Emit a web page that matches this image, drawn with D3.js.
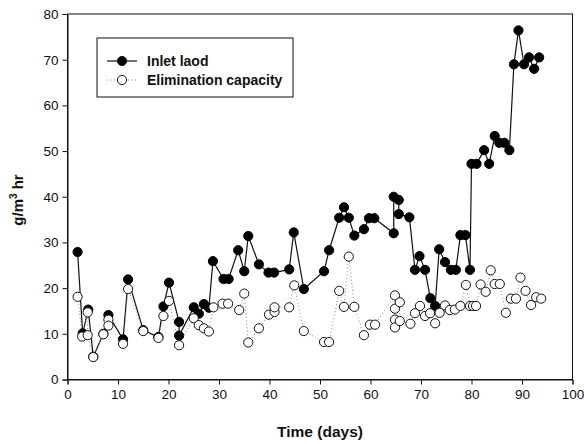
<!DOCTYPE html>
<html>
<head>
<meta charset="utf-8">
<script src="https://cdn.jsdelivr.net/npm/d3@7"></script>
<style>
  body { margin: 0; background: #fff; }
  text { font-family: Arial, "Liberation Sans", sans-serif; }
</style>
</head>
<body>
<svg width="584" height="444"></svg>
<script>
// inlet load [day, g/m3 hr]
const inletLoad = [
  [2, 27.9], [3, 10.1], [4.1, 15.3], [5.1, 5.0], [7.1, 10.0], [8.1, 14.1], [11, 8.8], [12, 21.9],
  [15, 10.8], [18, 9.3], [19, 16.0], [20.1, 21.2], [22.1, 12.6], [22.1, 9.6], [25, 15.8], [26, 14.4],
  [27, 16.5], [28, 15.7], [28.8, 25.9], [30.9, 22.0], [31.9, 22.0], [33.8, 28.3], [35, 23.7],
  [35.8, 31.4], [37.9, 25.2], [39.8, 23.4], [40.9, 23.4], [43.9, 24.1], [44.8, 32.2], [46.8, 19.8],
  [50.8, 23.7], [51.8, 28.3], [53.8, 35.4], [54.75, 37.7], [55.7, 35.4], [56.8, 31.5], [58.7, 32.9],
  [59.7, 35.3], [60.75, 35.3], [64.6, 32.0], [64.6, 40.0], [65.6, 39.3], [65.6, 36.2], [67.7, 35.5],
  [68.8, 24.0], [69.7, 27.0], [70.8, 24.0], [71.85, 17.8], [72.8, 16.1], [73.6, 28.5], [74.75, 25.7],
  [75.9, 24.0], [76.9, 24.0], [77.8, 31.6], [78.8, 31.6], [79.7, 24.0], [80, 47.2], [81, 47.2],
  [82.5, 50.2], [83.5, 47.2], [84.6, 53.3], [85.5, 51.8], [86.5, 51.8], [87.5, 50.2], [88.4, 69.0],
  [89.3, 76.4], [90.4, 69.0], [91.4, 70.5], [92.4, 68.0], [93.4, 70.5]
];

// elimination capacity [day, g/m3 hr]
const elimCapacity = [
  [2, 18.1], [2.9, 9.4], [4, 14.7], [4, 9.7], [5.1, 4.9], [7.1, 9.9], [8.1, 13.1], [8.1, 11.8],
  [11, 7.8], [12, 19.8], [15, 10.6], [18, 9.1], [19, 13.9], [20.1, 17.2], [22.1, 7.5], [25, 13.4],
  [26, 11.9], [27, 11.2], [28, 10.5], [28.9, 15.8], [30.7, 16.6], [31.8, 16.6], [34, 15.2], [35, 18.8],
  [35.8, 8.1], [37.9, 11.2], [39.9, 14.2], [41, 14.8], [41, 15.8], [43.9, 15.8], [44.9, 20.6],
  [46.8, 10.6], [50.8, 8.2], [51.8, 8.2], [53.8, 19.4], [54.75, 15.9], [55.7, 26.9], [56.8, 15.9],
  [58.7, 9.7], [59.9, 12.0], [60.9, 12.0], [64.85, 18.4], [64.85, 15.5], [64.85, 13.1], [64.85, 11.4],
  [65.8, 16.9], [65.8, 12.8], [67.9, 12.2], [68.8, 14.5], [69.8, 16.1], [70.8, 13.9], [71.8, 14.5],
  [72.8, 12.3], [73.7, 14.6], [74.75, 16.2], [75.7, 15.2], [76.7, 15.3], [77.8, 16.1], [78.9, 20.7],
  [79.7, 16.1], [80.3, 16.1], [80.9, 16.1], [81.8, 20.8], [82.8, 19.2], [83.8, 23.9], [84.6, 20.9],
  [85.6, 20.9], [86.8, 14.6], [87.8, 17.7], [88.8, 17.7], [89.7, 22.3], [90.7, 19.4], [91.8, 16.3],
  [92.8, 18.0], [93.8, 17.7]
];

const xTicks = [0, 10, 20, 30, 40, 50, 60, 70, 80, 90, 100];
const yTicks = [0, 10, 20, 30, 40, 50, 60, 70, 80];
const seriesNames = ["Inlet laod", "Elimination capacity"];

const margin = { left: 67.5, right: 11.5, top: 14, bottom: 64.5 };
const width = 584 - margin.left - margin.right;
const height = 444 - margin.top - margin.bottom;

const svg = d3.select('svg');
const g = svg.append('g').attr('transform', `translate(${margin.left},${margin.top})`);

const x = d3.scaleLinear().domain([0, 100]).range([0, width]);
const y = d3.scaleLinear().domain([0, 80]).range([height, 0]);

// frame
g.append('rect')
  .attr('width', width).attr('height', height)
  .attr('fill', 'none').attr('stroke', '#111').attr('stroke-width', 1);

// axes
const xAxis = g.append('g').attr('transform', `translate(0,${height})`)
  .call(d3.axisBottom(x).tickValues(xTicks).tickSize(5).tickPadding(5));
const yAxis = g.append('g')
  .call(d3.axisLeft(y).tickValues(yTicks).tickSize(5).tickPadding(4));
[xAxis, yAxis].forEach(a => {
  a.select('.domain').attr('stroke', '#111');
  a.selectAll('.tick line').attr('stroke', '#111');
  a.selectAll('text').style('font-size', '13.5px').attr('fill', '#111');
});

// lines
const line = d3.line().x(d => x(d[0])).y(d => y(d[1]));
g.append('path').datum(inletLoad)
  .attr('d', line).attr('fill', 'none').attr('stroke', '#111').attr('stroke-width', 1.2);
g.append('path').datum(elimCapacity)
  .attr('d', line).attr('fill', 'none').attr('stroke', '#888').attr('stroke-width', 1)
  .attr('stroke-dasharray', '1,2.5');

// points
g.selectAll('.filled').data(inletLoad).enter().append('circle')
  .attr('class', 'filled')
  .attr('cx', d => x(d[0])).attr('cy', d => y(d[1])).attr('r', 4.6)
  .attr('fill', '#000').attr('stroke', '#000');
g.selectAll('.open').data(elimCapacity).enter().append('circle')
  .attr('class', 'open')
  .attr('cx', d => x(d[0])).attr('cy', d => y(d[1])).attr('r', 4.6)
  .attr('fill', '#fff').attr('stroke', '#111').attr('stroke-width', 1);

// axis titles
svg.append('text')
  .attr('x', margin.left + width / 2).attr('y', 437)
  .attr('text-anchor', 'middle')
  .style('font-size', '15.5px').style('font-weight', 'bold')
  .attr('fill', '#111')
  .text('Time (days)');

const yTitle = svg.append('text')
  .attr('transform', 'translate(23,200) rotate(-90)')
  .attr('text-anchor', 'middle')
  .style('font-size', '15px').style('font-weight', 'bold')
  .attr('fill', '#111');
yTitle.append('tspan').text('g/m');
yTitle.append('tspan').attr('dy', -6).style('font-size', '10px').text('3');
yTitle.append('tspan').attr('dy', 6).text(' hr');

// legend
const legend = svg.append('g').attr('transform', 'translate(97,38)');
legend.append('rect')
  .attr('width', 196).attr('height', 59)
  .attr('fill', '#fff').attr('stroke', '#111').attr('stroke-width', 1);

const items = legend.selectAll('.item').data(seriesNames).enter().append('g')
  .attr('transform', (d, i) => `translate(0,${23 + i * 19})`);
items.append('line')
  .attr('x1', 10).attr('x2', 40)
  .attr('stroke', (d, i) => i === 0 ? '#111' : '#888')
  .attr('stroke-width', (d, i) => i === 0 ? 1.2 : 1)
  .attr('stroke-dasharray', (d, i) => i === 0 ? null : '1,2.5');
items.append('circle')
  .attr('cx', 25).attr('r', 4.6)
  .attr('fill', (d, i) => i === 0 ? '#000' : '#fff')
  .attr('stroke', '#111');
items.append('text')
  .attr('x', 50).attr('dy', '0.35em')
  .style('font-size', '14px').style('font-weight', 'bold')
  .attr('fill', '#111')
  .text(d => d);
</script>
</body>
</html>
